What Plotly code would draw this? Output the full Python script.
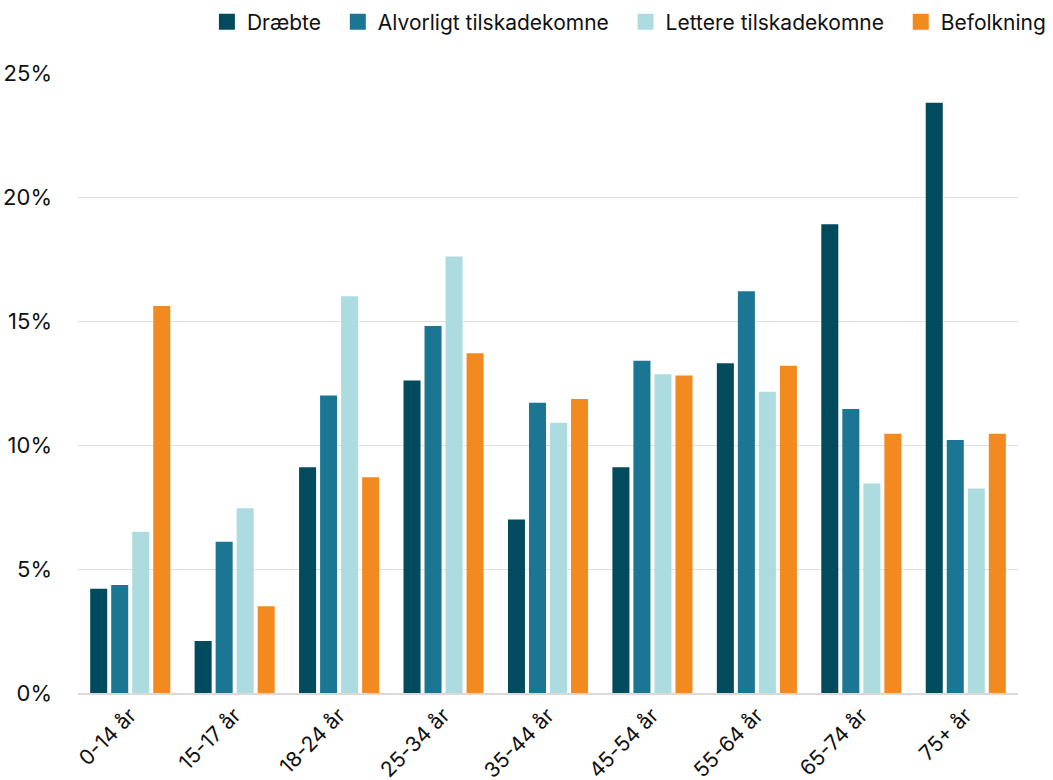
import plotly.graph_objects as go

categories = ["0-14 år", "15-17 år", "18-24 år", "25-34 år", "35-44 år",
              "45-54 år", "55-64 år", "65-74 år", "75+ år"]
draebte = [4.2, 2.1, 9.1, 12.6, 7.0, 9.1, 13.3, 18.9, 23.8]
alvorligt = [4.35, 6.1, 12.0, 14.8, 11.7, 13.4, 16.2, 11.45, 10.2]
lettere = [6.5, 7.45, 16.0, 17.6, 10.9, 12.85, 12.15, 8.45, 8.25]
befolkning = [15.6, 3.5, 8.7, 13.7, 11.85, 12.8, 13.2, 10.45, 10.45]

series_names = ["Dræbte", "Alvorligt tilskadekomne", "Lettere tilskadekomne", "Befolkning"]
series_values = [draebte, alvorligt, lettere, befolkning]
series_colors = ["#024b5e", "#1a7692", "#acdce0", "#f28a20"]
legend_pad = ["\u00a0\u00a0", "\u00a0\u00a0", "\u00a0\u00a0", ""]

fig = go.Figure()
for name, vals, col in zip(series_names, series_values, series_colors):
    fig.add_trace(go.Bar(x=categories, y=[v / 100 for v in vals], name=name,
                         marker=dict(color=col, line=dict(width=0)),
                         showlegend=False))
for name, col, pad in zip(series_names, series_colors, legend_pad):
    fig.add_trace(go.Scatter(x=[categories[0]], y=[None], name=name + pad, mode="markers",
                             marker=dict(symbol="square", size=19, color=col),
                             showlegend=True, hoverinfo="skip"))

fig.update_layout(
    width=1053, height=780,
    barmode="group", bargap=0.195, bargroupgap=0.19,
    plot_bgcolor="white", paper_bgcolor="white",
    font=dict(family="Inter", size=21, color="#111111"),
    margin=dict(l=78, r=35, t=73, b=87, autoexpand=False),
    legend=dict(orientation="h", x=1.035, xanchor="right", y=1.082, yanchor="middle",
                font=dict(size=21), traceorder="normal", bgcolor="rgba(0,0,0,0)"),
    xaxis=dict(tickangle=-45, showgrid=False, showline=True, linecolor="#d9d9d9",
               linewidth=1.5, ticks="", tickfont=dict(size=21), automargin=False,
               range=[-0.5, len(categories) - 0.5]),
    yaxis=dict(range=[0, 0.25], tickformat=".0%", dtick=0.05, showgrid=True,
               gridcolor="#e0e0e0", zeroline=False, ticks="", automargin=False,
               ticklabelstandoff=25, tickfont=dict(size=22)),
)

fig.write_html("out.html", config={"displayModeBar": False},
               post_script="document.body.style.margin='0';document.body.style.overflow='hidden';")
